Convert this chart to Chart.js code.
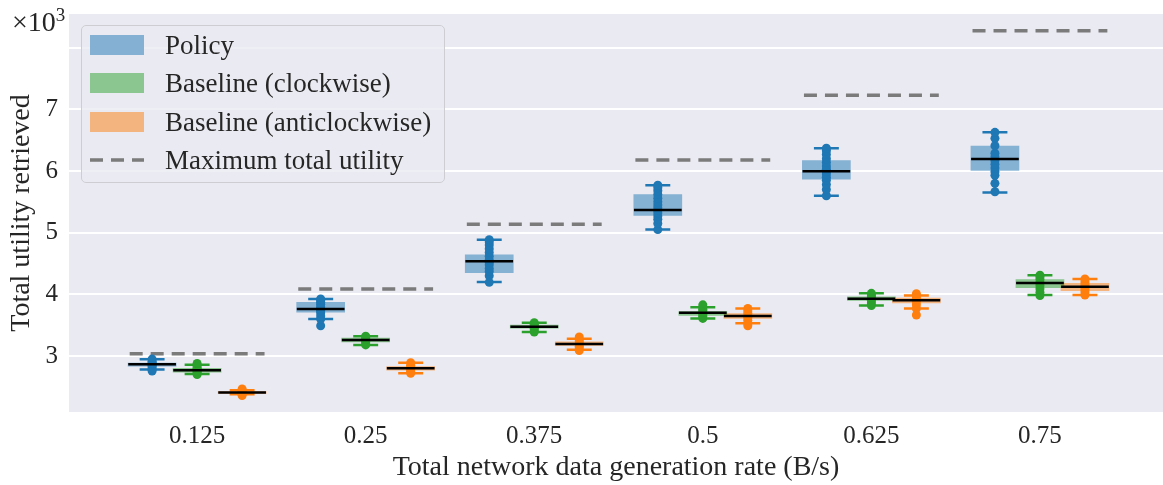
<!DOCTYPE html>
<html>
<head>
<meta charset="utf-8">
<script src="https://cdn.jsdelivr.net/npm/chart.js@4.4.0/dist/chart.umd.min.js"></script>
<style>
  body { margin: 0; background: #fff; overflow: hidden; }
  #wrap { position: relative; width: 1163px; height: 485px; font-family: "Liberation Serif", serif; color: #262626; }
  #chart { display: block; }
  #mult { position: absolute; left: 12px; top: 4px; font-size: 28px; }
  #mult sup { font-size: 19px; }
  #legend { position: absolute; left: 81px; top: 25px; width: 364px; height: 158px; box-sizing: border-box;
            background: rgba(234,234,242,0.8); border: 1.5px solid #cdcdd2; border-radius: 5px; }
  .row { position: absolute; left: 8px; height: 20px; display: flex; align-items: center; font-size: 27px; white-space: nowrap; }
  .sw { width: 54px; height: 20px; margin-right: 21px; flex: none; }
</style>
</head>
<body>
<div id="wrap">
  <canvas id="chart" width="1163" height="485"></canvas>
  <div id="mult">&times;10<sup>3</sup></div>
  <div id="legend">
    <div class="row" style="top:9px"><div class="sw" style="background:#84b0d3"></div>Policy</div>
    <div class="row" style="top:47px"><div class="sw" style="background:#8bc58f"></div>Baseline (clockwise)</div>
    <div class="row" style="top:86px"><div class="sw" style="background:#f4b480"></div>Baseline (anticlockwise)</div>
    <div class="row" style="top:124px"><svg class="sw" width="54" height="20"><line x1="0" y1="10" x2="54" y2="10" stroke="#7b7b7b" stroke-width="3.5" stroke-dasharray="13 8"/></svg>Maximum total utility</div>
  </div>
</div>
<script>
const rates = ['0.125', '0.25', '0.375', '0.5', '0.625', '0.75'];
const maxUtility = [3035, 4087, 5136, 6180, 7228, 8275];

// box stats per rate: [whisker low, q1, median, q3, whisker high]
const policyBoxes = [
  [2780, 2835, 2865, 2885, 2946],
  [3600, 3710, 3762, 3870, 3924],
  [4200, 4350, 4535, 4640, 4886],
  [5050, 5280, 5368, 5620, 5770],
  [5600, 5870, 5995, 6170, 6370],
  [5650, 6010, 6195, 6405, 6628]
];
const clockwiseBoxes = [
  [2710, 2740, 2768, 2800, 2860],
  [3180, 3230, 3260, 3290, 3320],
  [3390, 3450, 3475, 3500, 3540],
  [3610, 3660, 3700, 3720, 3790],
  [3820, 3900, 3930, 3960, 4016],
  [3990, 4110, 4184, 4240, 4310]
];
const anticlockwiseBoxes = [
  [2380, 2395, 2410, 2425, 2445],
  [2720, 2770, 2800, 2830, 2890],
  [3100, 3170, 3195, 3230, 3280],
  [3530, 3610, 3650, 3690, 3770],
  [3770, 3860, 3905, 3940, 3980],
  [3990, 4060, 4124, 4180, 4250]
];

// individual runs
const policyPoints = [
  [2755, 2780, 2810, 2840, 2855, 2865, 2875, 2890, 2915, 2950],
  [3490, 3600, 3650, 3700, 3730, 3750, 3770, 3800, 3840, 3870, 3900, 3924],
  [4195, 4300, 4370, 4420, 4480, 4520, 4560, 4620, 4680, 4740, 4800, 4850, 4886],
  [5050, 5150, 5220, 5270, 5320, 5360, 5400, 5450, 5500, 5560, 5620, 5680, 5730, 5770],
  [5600, 5700, 5780, 5850, 5900, 5950, 5990, 6030, 6080, 6140, 6200, 6270, 6330, 6370],
  [5665, 5800, 5930, 5990, 6050, 6110, 6170, 6230, 6290, 6410, 6530, 6628]
];
const clockwisePoints = [
  [2700, 2720, 2745, 2765, 2780, 2800, 2830, 2880],
  [3180, 3210, 3240, 3260, 3280, 3300, 3320],
  [3390, 3420, 3450, 3470, 3490, 3515, 3540],
  [3610, 3640, 3670, 3700, 3730, 3760, 3790, 3830],
  [3820, 3860, 3900, 3930, 3960, 3990, 4016],
  [3980, 4030, 4090, 4140, 4190, 4240, 4280, 4310]
];
const anticlockwisePoints = [
  [2360, 2380, 2400, 2410, 2425, 2445, 2465],
  [2720, 2750, 2780, 2800, 2820, 2850, 2890],
  [3090, 3130, 3160, 3195, 3230, 3260, 3310],
  [3490, 3530, 3580, 3620, 3650, 3690, 3730, 3770],
  [3665, 3770, 3830, 3880, 3910, 3940, 3980, 4010],
  [3990, 4040, 4080, 4120, 4160, 4200, 4250]
];

const yTicks = [3000, 4000, 5000, 6000, 7000, 8000];
const yTickLabels = ['3', '4', '5', '6', '7', ''];

const TICK_FONT = { family: "'Liberation Serif', serif", size: 25 };
const TITLE_FONT = { family: "'Liberation Serif', serif", size: 28 };
const INK = '#262626';
const HUE_OFFSET = 0.267, BOX_HALF = 0.1415, CAP_HALF = 0.074, MAX_HALF = 0.4;

const series = [
  { boxes: policyBoxes, points: policyPoints, color: '#1f77b4', fill: 'rgba(31,119,180,0.5)' },
  { boxes: clockwiseBoxes, points: clockwisePoints, color: '#2ca02c', fill: 'rgba(44,160,44,0.5)' },
  { boxes: anticlockwiseBoxes, points: anticlockwisePoints, color: '#ff7f0e', fill: 'rgba(255,127,14,0.5)' }
];

// turn a list of [x0, y0, x1, y1] into line data broken by gaps
function segs(list) {
  const out = [];
  list.forEach(([x0, y0, x1, y1]) => {
    out.push({ x: x0, y: y0 }, { x: x1, y: y1 }, { x: NaN, y: NaN });
  });
  return out;
}

const datasets = [];
series.forEach((s, k) => {
  const off = (k - 1) * HUE_OFFSET;
  const medians = [], whiskers = [], pts = [], bars = [];
  s.boxes.forEach(([lo, q1, med, q3, hi], i) => {
    const x = i + off;
    bars.push({ x, y: [q1, q3] });
    medians.push([x - BOX_HALF, med, x + BOX_HALF, med]);
    whiskers.push([x, lo, x, q1], [x, q3, x, hi],
                  [x - CAP_HALF, lo, x + CAP_HALF, lo], [x - CAP_HALF, hi, x + CAP_HALF, hi]);
    s.points[i].forEach(v => pts.push({ x, y: v }));
  });
  datasets.push({
    type: 'bar', data: bars, backgroundColor: s.fill, borderWidth: 0,
    grouped: false, barThickness: 48, order: 3
  });
  datasets.push({
    type: 'line', data: segs(whiskers), borderColor: s.color, borderWidth: 2.5,
    pointRadius: 0, spanGaps: false, order: 2
  });
  datasets.push({
    type: 'scatter', data: pts, backgroundColor: s.color, borderWidth: 0,
    pointRadius: 4.5, order: 1
  });
  datasets.push({
    type: 'line', data: segs(medians), borderColor: '#000', borderWidth: 2.5,
    pointRadius: 0, spanGaps: false, order: 0
  });
});

datasets.push({
  type: 'line',
  data: segs(maxUtility.map((v, i) => [i - MAX_HALF, v, i + MAX_HALF, v])),
  borderColor: '#7b7b7b', borderWidth: 3.5, borderDash: [13, 8],
  pointRadius: 0, spanGaps: false, order: 4
});

const plotBackground = {
  id: 'plotBackground',
  beforeDraw(chart) {
    const { ctx, chartArea: a } = chart;
    ctx.save();
    ctx.fillStyle = '#eaeaf2';
    ctx.fillRect(a.left, a.top, a.width, a.height);
    ctx.restore();
  }
};

new Chart(document.getElementById('chart'), {
  type: 'bar',
  data: { datasets },
  plugins: [plotBackground],
  options: {
    responsive: false,
    animation: false,
    devicePixelRatio: 1,
    layout: { autoPadding: false, padding: { top: 14, right: 0, bottom: 0, left: 0 } },
    plugins: { legend: { display: false }, tooltip: { enabled: false } },
    scales: {
      x: {
        type: 'linear', offset: false, min: -0.76, max: 5.73,
        grid: { display: false }, border: { display: false },
        afterBuildTicks: sc => { sc.ticks = rates.map((r, i) => ({ value: i })); },
        afterFit: sc => { sc.height = 73; sc.paddingLeft = 0; sc.paddingRight = 0; },
        ticks: { callback: (v, i) => rates[i], font: TICK_FONT, color: INK, padding: 1, maxRotation: 0 },
        title: { display: true, text: 'Total network data generation rate (B/s)', font: TITLE_FONT, color: INK, padding: { top: 0, bottom: 1 } }
      },
      y: {
        min: 2092, max: 8547,
        grid: { color: '#ffffff', lineWidth: 2, drawTicks: false }, border: { display: false },
        afterBuildTicks: sc => { sc.ticks = yTicks.map(v => ({ value: v })); },
        afterFit: sc => { sc.width = 69; sc.paddingTop = 0; sc.paddingBottom = 0; },
        ticks: { callback: (v, i) => yTickLabels[i], font: TICK_FONT, color: INK, padding: 11 },
        title: { display: true, text: 'Total utility retrieved', font: TITLE_FONT, color: INK, padding: { top: 5, bottom: 0 } }
      }
    }
  }
});
</script>
</body>
</html>
